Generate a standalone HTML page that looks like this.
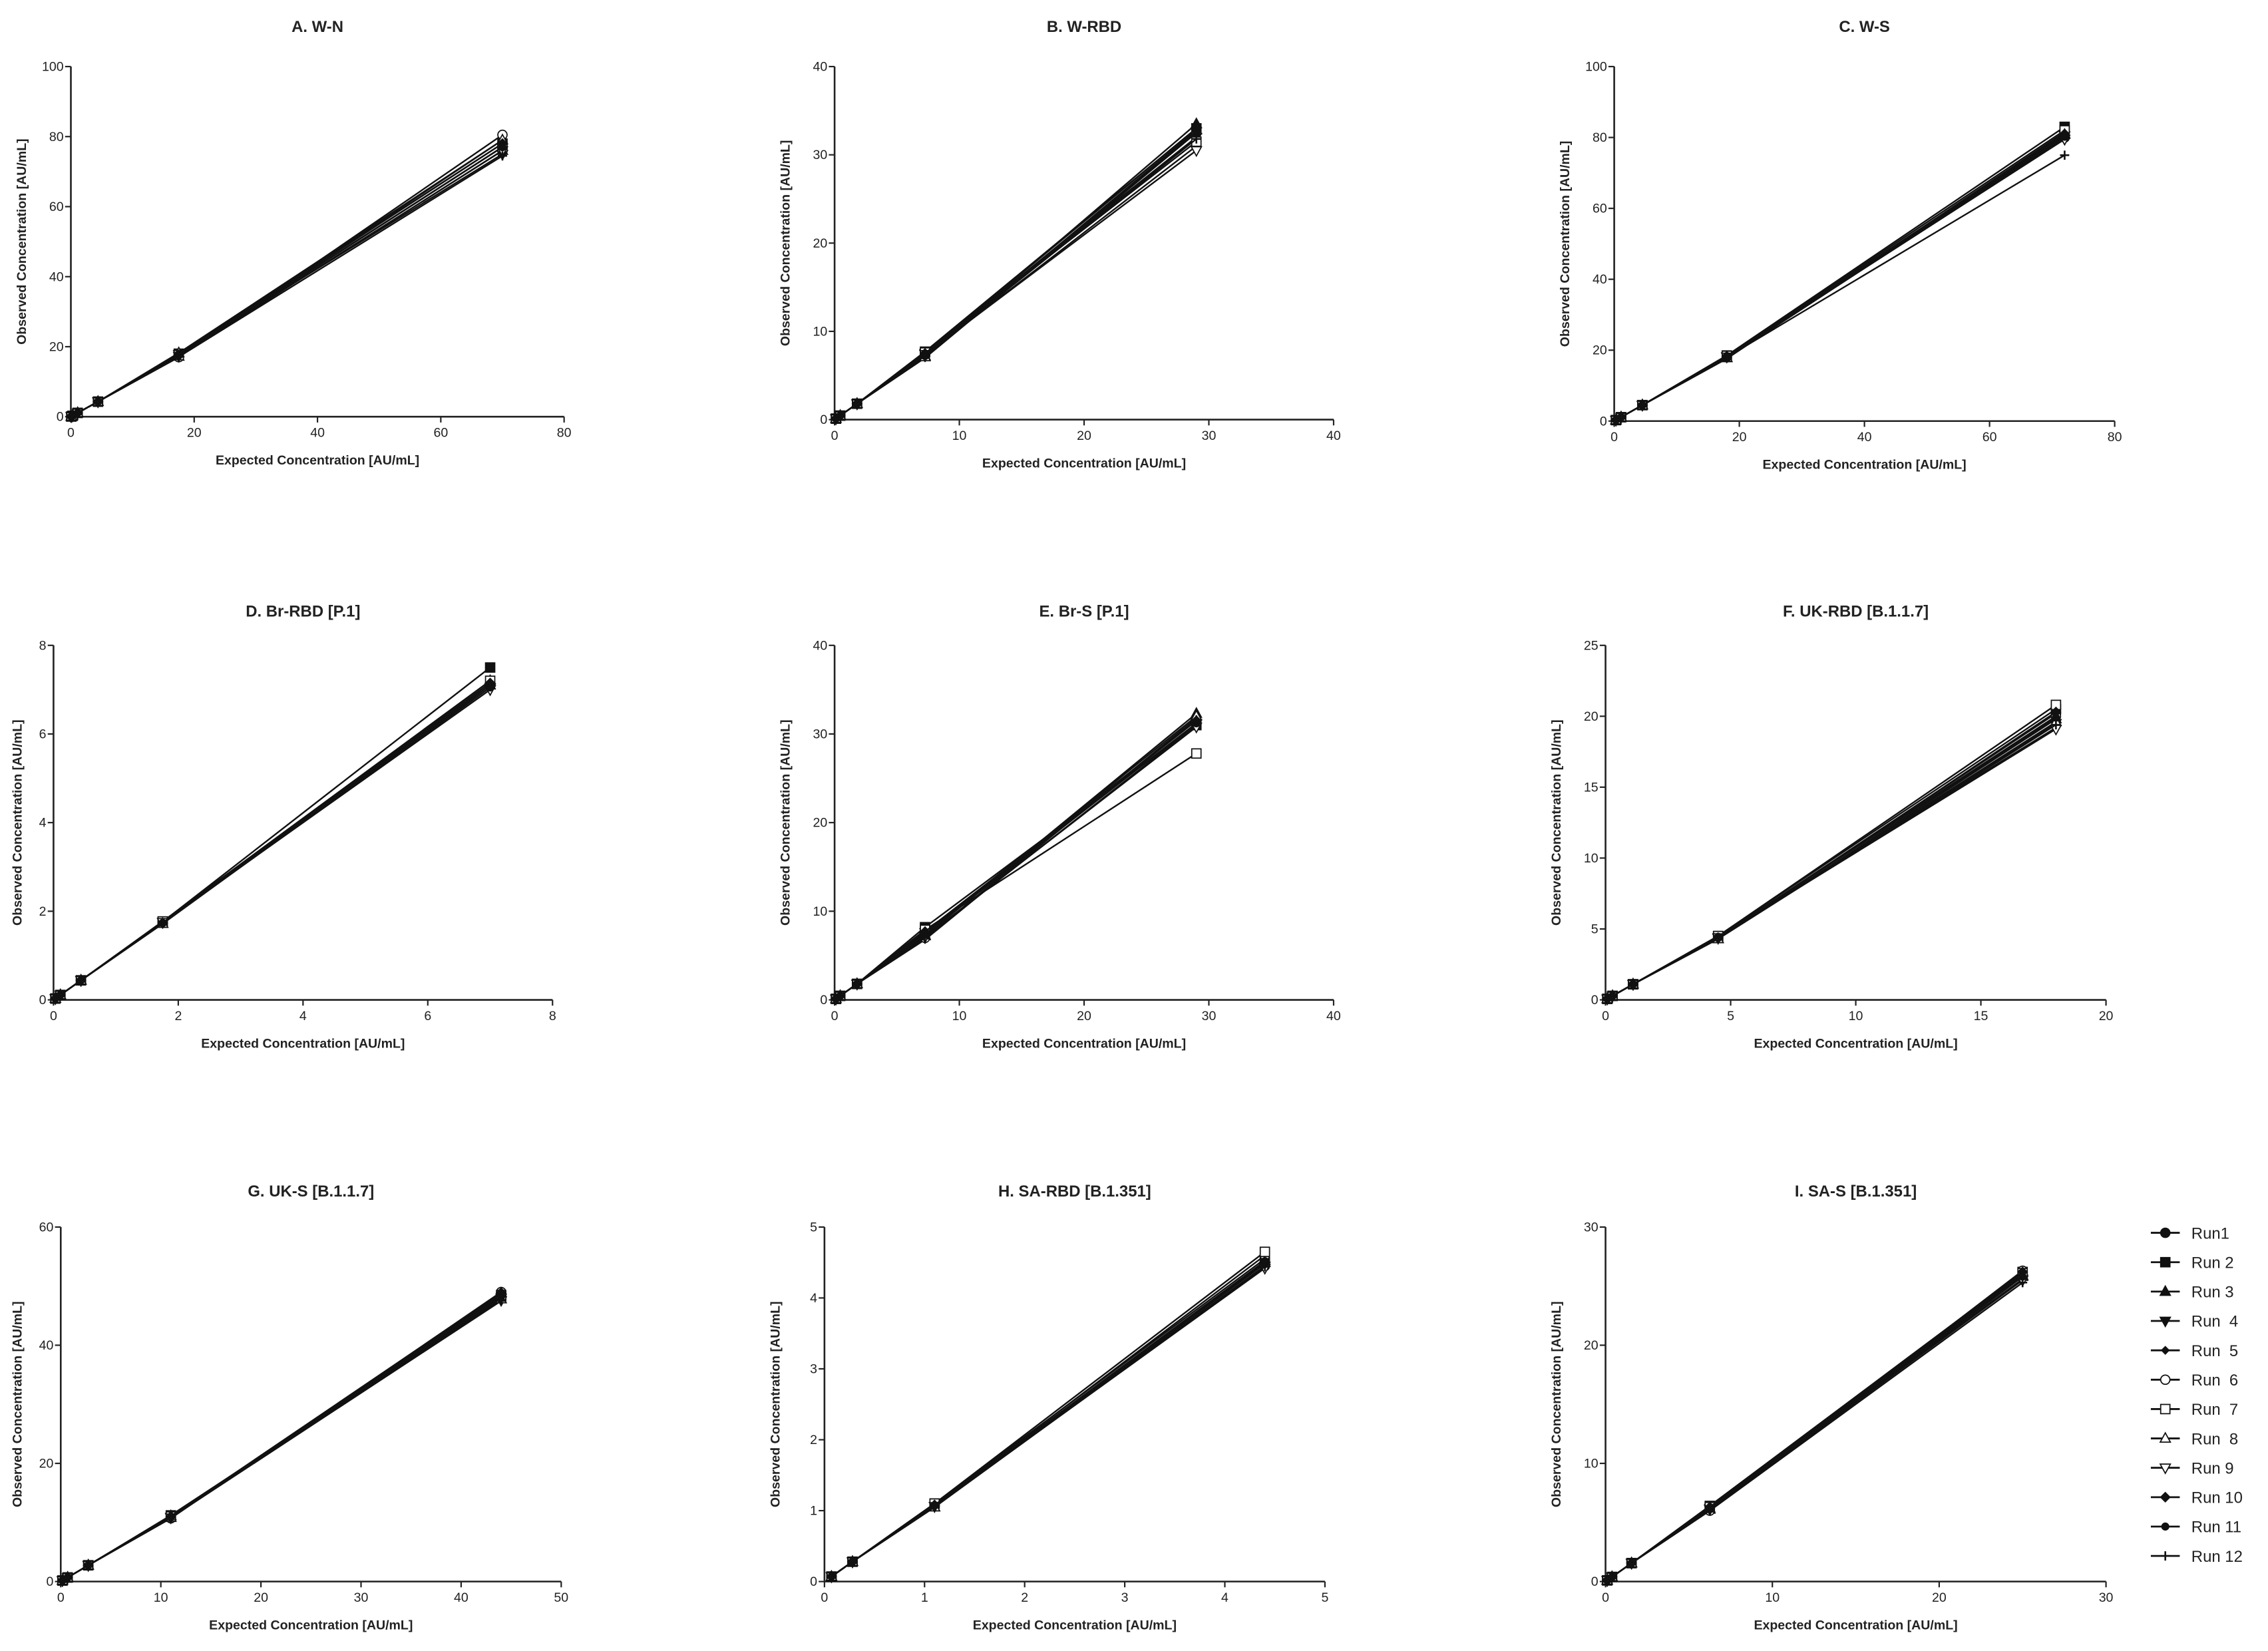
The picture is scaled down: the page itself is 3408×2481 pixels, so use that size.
<!DOCTYPE html>
<html><head><meta charset="utf-8"><style>
html,body{margin:0;padding:0;background:#fff;}
svg{display:block;}
text{font-family:"Liberation Sans",Arial,sans-serif;fill:#222;}
</style></head><body>
<svg id="chart" width="3408" height="2481" viewBox="0 0 1568 1141" preserveAspectRatio="none" xmlns="http://www.w3.org/2000/svg"></svg>
<script>
// ---- data ----
const panelTitles = ["A. W-N","B. W-RBD","C. W-S","D. Br-RBD [P.1]","E. Br-S [P.1]","F. UK-RBD [B.1.1.7]","G. UK-S [B.1.1.7]","H. SA-RBD [B.1.351]","I. SA-S [B.1.351]"];
const runNames = ["Run1","Run 2","Run 3","Run  4","Run  5","Run  6","Run  7","Run  8","Run 9","Run 10","Run 11","Run 12"];
const xMax = [80,40,80,8,40,20,50,5,30];
const xStep = [20,10,20,2,10,5,10,1,10];
const yMax = [100,40,100,8,40,25,60,5,30];
const yStep = [20,10,20,2,10,5,20,1,10];
const expectedA = [70,17.5,4.4,1.1,0.27,0.07];
const expectedB = [29,7.25,1.8,0.45,0.11];
const expectedC = [72,18,4.5,1.1,0.28];
const expectedD = [7,1.75,0.44,0.11,0.03];
const expectedE = [29,7.25,1.8,0.45,0.11];
const expectedF = [18,4.5,1.1,0.28,0.07];
const expectedG = [44,11,2.75,0.69,0.17];
const expectedH = [4.4,1.1,0.28,0.07];
const expectedI = [25,6.25,1.56,0.39,0.1];
// observed at highest concentration, per run (Run1..Run12)
const topA = [77,78,76,75,79,80.5,77,79,76,78,77,74.5];
const topB = [32.5,33,33.5,32,32.5,31,31.5,32.8,30.5,33,32.6,31.8];
const topC = [80,83,81,80.5,81.5,80,82,80.8,79.5,81,80.2,75];
const topD = [7.1,7.5,7.2,7.05,7.1,7.15,7.2,7.1,7.0,7.15,7.05,7.1];
const topE = [31.5,31,32.3,31.2,31.8,31,27.8,32,30.8,31.5,31.2,31.6];
const topF = [20.2,20.5,19.8,19.5,19.2,20,20.8,19.6,19.1,20.3,19.9,19.4];
const topG = [48.5,48,48.8,47.6,48.2,49,48.5,47.8,48,48.9,48.3,47.5];
const topH = [4.45,4.55,4.5,4.45,4.5,4.6,4.65,4.5,4.42,4.48,4.52,4.44];
const topI = [26,26.2,25.8,25.6,26,26.3,26.1,25.9,25.5,26.2,25.8,25.3];
// observed at second concentration, per run
const secA = [17.5,18,17.2,17.8,17.4,17,17.6,18.2,17.3,17.7,17.5,17.1];
const secB = [7.4,7.7,7.2,7.5,7.0,7.3,7.6,7.1,7.4,7.5,7.2,7.3];
const secC = [18,18.5,17.8,18.2,17.6,18,18.4,17.9,18.1,18.3,17.7,18];
const secD = [1.74,1.76,1.72,1.75,1.73,1.74,1.77,1.72,1.75,1.74,1.73,1.72];
const secE = [7.5,8.2,7.2,7.6,6.8,7.0,7.9,7.3,7.1,7.7,7.4,7.0];
const secF = [4.4,4.5,4.3,4.35,4.45,4.4,4.5,4.3,4.4,4.35,4.45,4.3];
const secG = [11,11.2,10.8,10.9,11.1,10.7,11,11.1,10.8,11,10.9,10.8];
const secH = [1.07,1.1,1.05,1.06,1.08,1.07,1.1,1.05,1.06,1.08,1.07,1.05];
const secI = [6.2,6.4,6.1,6.2,6.3,6.0,6.3,6.2,6.1,6.3,6.2,6.0];
// observed at lower concentrations (runs overlap)
const lowA = [4.3,1.1,0.27,0.07];
const lowB = [1.8,0.45,0.11];
const lowC = [4.5,1.1,0.28];
const lowD = [0.44,0.11,0.03];
const lowE = [1.8,0.45,0.11];
const lowF = [1.1,0.28,0.07];
const lowG = [2.75,0.69,0.17];
const lowH = [0.28,0.07];
const lowI = [1.56,0.39,0.1];

const expected=[expectedA,expectedB,expectedC,expectedD,expectedE,expectedF,expectedG,expectedH,expectedI];
const tops=[topA,topB,topC,topD,topE,topF,topG,topH,topI];
const secs=[secA,secB,secC,secD,secE,secF,secG,secH,secI];
const lows=[lowA,lowB,lowC,lowD,lowE,lowF,lowG,lowH,lowI];

// ---- layout (in viewBox units) ----
const boxes=[
 {x0:49,x1:390,y0:288,y1:46},{x0:577,x1:922,y0:290,y1:46},{x0:1116,x1:1462,y0:291,y1:46},
 {x0:37,x1:382,y0:691,y1:446},{x0:577,x1:922,y0:691,y1:446},{x0:1110,x1:1456,y0:691,y1:446},
 {x0:42,x1:388,y0:1093,y1:848},{x0:570,x1:916,y0:1093,y1:848},{x0:1110,x1:1456,y0:1093,y1:848}];
const titleY=[18,18,18,422,422,422,823,823,823];

const NS="http://www.w3.org/2000/svg";
const svg=document.getElementById('chart');
function mk(tag,attrs,parent){const e=document.createElementNS(NS,tag);for(const k in attrs)e.setAttribute(k,attrs[k]);(parent||svg).appendChild(e);return e;}

function marker(g,type,cx,cy,s){
  let e;const open=[5,6,7,8].includes(type);
  const fill=open?'#fff':'#111';
  if(type===0||type===5||type===10){e=mk('circle',{cx,cy,r:type===10?s*0.75:s,fill,stroke:'#111','stroke-width':0.8},g);}
  else if(type===1||type===6){e=mk('rect',{x:cx-s,y:cy-s,width:2*s,height:2*s,fill,stroke:'#111','stroke-width':0.8},g);}
  else if(type===2||type===7){e=mk('polygon',{points:`${cx},${cy-s*1.2} ${cx-s*1.1},${cy+s*0.8} ${cx+s*1.1},${cy+s*0.8}`,fill,stroke:'#111','stroke-width':0.8},g);}
  else if(type===3||type===8){e=mk('polygon',{points:`${cx},${cy+s*1.2} ${cx-s*1.1},${cy-s*0.8} ${cx+s*1.1},${cy-s*0.8}`,fill,stroke:'#111','stroke-width':0.8},g);}
  else if(type===4||type===9){const r=type===4?s*0.8:s;e=mk('polygon',{points:`${cx},${cy-r} ${cx+r},${cy} ${cx},${cy+r} ${cx-r},${cy}`,fill,stroke:'#111','stroke-width':0.8},g);}
  else {e=mk('path',{d:`M${cx-s} ${cy}H${cx+s}M${cx} ${cy-s}V${cy+s}`,stroke:'#111','stroke-width':1.2},g);}
  
  
}

for(let p=0;p<9;p++){
  const b=boxes[p];
  const g=mk('g',{});
  
  
  const xs=v=>b.x0+(v/xMax[p])*(b.x1-b.x0);
  const ys=v=>b.y0-(v/yMax[p])*(b.y0-b.y1);
  const cx=(b.x0+b.x1)/2;
  const t=mk('text',{x:cx,y:titleY[p]+4,'text-anchor':'middle','font-size':11,'font-weight':'bold'},g);t.textContent=panelTitles[p];
  
  
  const ax=mk('path',{d:`M${b.x0} ${b.y1}V${b.y0}H${b.x1}`,stroke:'#222','stroke-width':1.2,fill:'none'},g);
  
  
  for(let v=0;v<=xMax[p]+1e-9;v+=xStep[p]){
    const x=xs(v);mk('line',{x1:x,x2:x,y1:b.y0,y2:b.y0+4,stroke:'#222','stroke-width':1},g);
    const tt=mk('text',{x,y:b.y0+14,'text-anchor':'middle','font-size':9},g);tt.textContent=+v.toFixed(2);
    
    
  }
  for(let v=0;v<=yMax[p]+1e-9;v+=yStep[p]){
    const y=ys(v);mk('line',{x1:b.x0-4,x2:b.x0,y1:y,y2:y,stroke:'#222','stroke-width':1},g);
    const tt=mk('text',{x:b.x0-5,y:y+3,'text-anchor':'end','font-size':9},g);tt.textContent=+v.toFixed(2);
    
    
  }
  const xl=mk('text',{x:cx,y:b.y0+33,'text-anchor':'middle','font-size':9,'font-weight':'bold'},g);xl.textContent='Expected Concentration [AU/mL]';
  
  
  const my=(b.y0+b.y1)/2, lx=Math.max(b.x0-31,15);
  const yl=mk('text',{x:lx,y:my,'text-anchor':'middle','font-size':9,'font-weight':'bold',transform:`rotate(-90 ${lx} ${my})`},g);yl.textContent='Observed Concentration [AU/mL]';
  
  
  const ex=expected[p];
  for(let r=0;r<12;r++){
    const obs=[tops[p][r],secs[p][r]].concat(lows[p]);
    const pts=ex.map((e,i)=>[xs(e),ys(obs[i])]);
    const line=mk('polyline',{points:pts.map(q=>q.join(',')).join(' '),fill:'none',stroke:'#111','stroke-width':1.1},g);
    
    
    pts.forEach(q=>marker(g,r,q[0],q[1],3.2));
  }
}
// legend
const lg=mk('g',{});


for(let r=0;r<12;r++){
  const y=852+r*20.3;
  const ent=mk('g',{},lg);
  
  
  mk('line',{x1:1487,x2:1507,y1:y,y2:y,stroke:'#111','stroke-width':1.3},ent);
  marker(ent,r,1497,y,3.2);
  const t=mk('text',{x:1515,y:y+4,'font-size':11},ent);t.textContent=runNames[r];
  t.setAttribute('xml:space','preserve');t.style.whiteSpace='pre';
}
</script>
</body></html>
